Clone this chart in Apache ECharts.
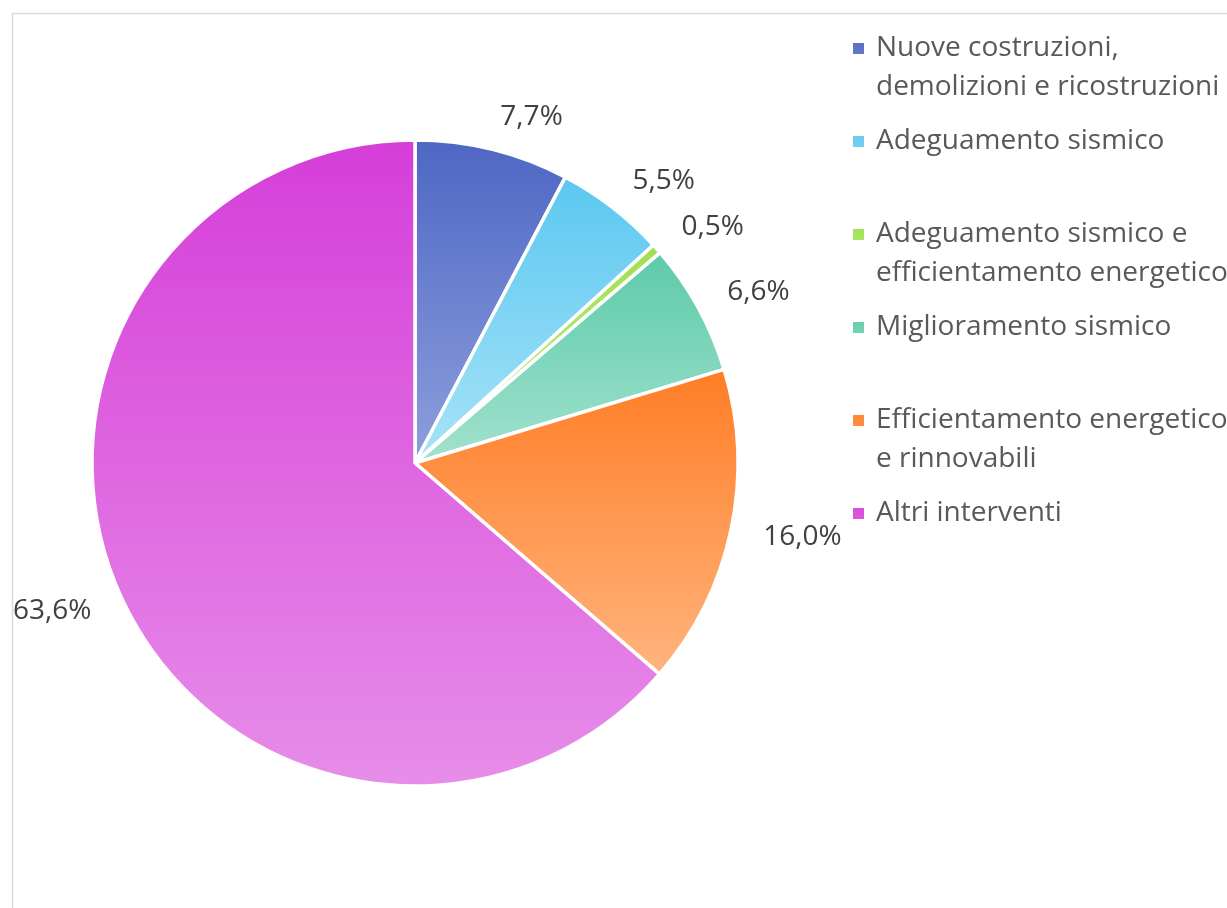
<!DOCTYPE html>
<html>
<head>
<meta charset="utf-8">
<script src="https://cdn.jsdelivr.net/npm/echarts@6/dist/echarts.min.js"></script>
<style>
html,body{margin:0;padding:0;background:#fff;}
#chart{width:1227px;height:908px;}
</style>
</head>
<body>
<div id="chart"></div>
<script>
const categories = [
  "Nuove costruzioni,\ndemolizioni e ricostruzioni",
  "Adeguamento sismico",
  "Adeguamento sismico e\nefficientamento energetico",
  "Miglioramento sismico",
  "Efficientamento energetico\ne rinnovabili",
  "Altri interventi"
];
const values = [7.7, 5.5, 0.5, 6.6, 16.0, 63.6];

const topColors = ["#4e66c4", "#5ac7f0", "#9ee04c", "#5ccaa8", "#ff7d25", "#d53ed8"];
const bottomColors = ["#8e9fdc", "#a8e3f8", "#c4ee93", "#a2e2ce", "#ffb47e", "#e78de9"];

function grad(i) {
  return new echarts.graphic.LinearGradient(0, 0, 0, 1, [
    { offset: 0, color: topColors[i] },
    { offset: 1, color: bottomColors[i] }
  ]);
}

const chart = echarts.init(document.getElementById('chart'), null, { renderer: 'canvas' });
const FONT = '"Open Sans", "DejaVu Sans", sans-serif';

const option = {
  animation: false,
  backgroundColor: '#ffffff',
  graphic: [{
    type: 'rect',
    left: 10, top: 11,
    shape: { width: 1400, height: 1100 },
    style: { fill: 'none', stroke: '#d9d9d9', lineWidth: 1.5 },
    silent: true, z: -10
  }],
  legend: {
    orient: 'vertical',
    left: 846,
    top: 23,
    itemWidth: 19,
    itemHeight: 78,
    itemGap: 13,
    icon: 'path://M0,0 M19,78 M0,13 h13 v13 h-13 z',
    formatter: function (name) {
      return name.indexOf('\n') >= 0 ? name : name + '\n ';
    },
    textStyle: {
      fontFamily: FONT,
      fontSize: 28,
      lineHeight: 39,
      color: '#595959'
    },
    data: categories
  },
  series: [{
    type: 'pie',
    center: [415, 463],
    radius: [0, 323],
    startAngle: 90,
    clockwise: true,
    avoidLabelOverlap: false,
    itemStyle: { borderColor: '#ffffff', borderWidth: 3.5 },
    label: {
      show: true,
      position: 'outside',
      fontFamily: FONT,
      fontSize: 28,
      color: '#404040',
      distanceToLabelLine: 0,
      formatter: function (p) {
        return p.value.toFixed(1).replace('.', ',') + '%';
      }
    },
    labelLine: { show: false, length: 33, length2: 0 },
    emphasis: { disabled: true },
    data: categories.map(function (c, i) {
      return { name: c, value: values[i], itemStyle: { color: grad(i) } };
    })
  }]
};
chart.setOption(option);
</script>
</body>
</html>
